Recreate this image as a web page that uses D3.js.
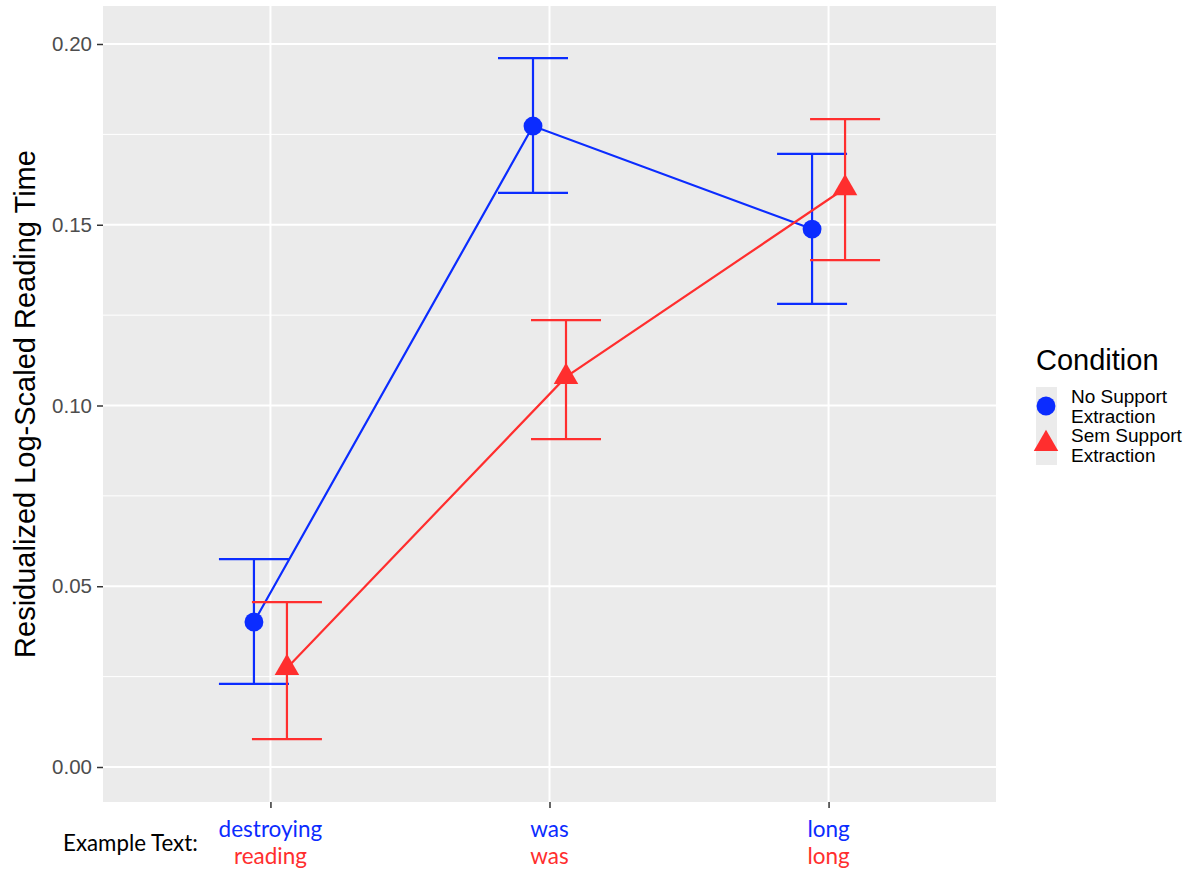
<!DOCTYPE html>
<html>
<head>
<meta charset="utf-8">
<script src="https://cdn.jsdelivr.net/npm/d3@7"></script>
<style>
  body { margin: 0; background: #ffffff; }
  svg { display: block; }
</style>
</head>
<body>
<svg id="chart" width="1193" height="878"></svg>
<script>
// Data
const positions = ["destroying", "was", "long"];
const blueWords = ["destroying", "was", "long"];
const redWords = ["reading", "was", "long"];
const conditions = ["No Support Extraction", "Sem Support Extraction"];

const noSupportMean = [0.0401, 0.1773, 0.1488];
const noSupportLower = [0.0230, 0.1588, 0.1281];
const noSupportUpper = [0.0575, 0.1961, 0.1696];

const semSupportMean = [0.0274, 0.1079, 0.1601];
const semSupportLower = [0.0077, 0.0907, 0.1402];
const semSupportUpper = [0.0456, 0.1236, 0.1792];

const yTicks = [0.00, 0.05, 0.10, 0.15, 0.20];
const yMinor = [0.025, 0.075, 0.125, 0.175];

const BLUE = "#0b2cff";
const RED = "#ff2e2e";

const svg = d3.select("#chart");
const panel = { left: 103, right: 996, top: 6, bottom: 802 };

const x = d3.scalePoint().domain(positions)
  .range([panel.left, panel.right]).padding(0.6);
const y = d3.scaleLinear().domain([0, 0.2]).range([767, 44]);

const dodge = 16.5;
const capHalf = 35;

// Panel background
svg.append("rect")
  .attr("x", panel.left).attr("y", panel.top)
  .attr("width", panel.right - panel.left)
  .attr("height", panel.bottom - panel.top)
  .attr("fill", "#ebebeb");

// Grid lines
svg.append("g").selectAll("line").data(yMinor).join("line")
  .attr("x1", panel.left).attr("x2", panel.right)
  .attr("y1", d => y(d)).attr("y2", d => y(d))
  .attr("stroke", "#ffffff").attr("stroke-width", 1);
svg.append("g").selectAll("line").data(yTicks).join("line")
  .attr("x1", panel.left).attr("x2", panel.right)
  .attr("y1", d => y(d)).attr("y2", d => y(d))
  .attr("stroke", "#ffffff").attr("stroke-width", 2);
svg.append("g").selectAll("line").data(positions).join("line")
  .attr("x1", d => x(d)).attr("x2", d => x(d))
  .attr("y1", panel.top).attr("y2", panel.bottom)
  .attr("stroke", "#ffffff").attr("stroke-width", 2);

// Y axis
const yAxis = svg.append("g")
  .attr("transform", `translate(${panel.left},0)`)
  .call(d3.axisLeft(y).tickValues(yTicks).tickFormat(d3.format(".2f")).tickSize(6).tickPadding(5));
yAxis.select(".domain").remove();
yAxis.selectAll(".tick line").attr("stroke", "#333333").attr("stroke-width", 1.5);
yAxis.selectAll(".tick text")
  .attr("fill", "#4d4d4d")
  .style("font-family", "Liberation Sans, Arial, sans-serif")
  .style("font-size", "20.5px");

// X axis ticks (labels drawn separately in two colours)
const xAxis = svg.append("g")
  .attr("transform", `translate(0,${panel.bottom})`)
  .call(d3.axisBottom(x).tickSize(6).tickFormat(""));
xAxis.select(".domain").remove();
xAxis.selectAll(".tick line").attr("stroke", "#333333").attr("stroke-width", 1.5);

const labelFont = "Lato, 'Open Sans', sans-serif";
svg.append("g").selectAll("text").data(positions).join("text")
  .attr("x", d => x(d)).attr("y", 837)
  .attr("text-anchor", "middle")
  .attr("fill", BLUE)
  .style("font-family", labelFont).style("font-size", "22.5px")
  .text((d, i) => blueWords[i]);
svg.append("g").selectAll("text").data(positions).join("text")
  .attr("x", d => x(d)).attr("y", 864)
  .attr("text-anchor", "middle")
  .attr("fill", RED)
  .style("font-family", labelFont).style("font-size", "22.5px")
  .text((d, i) => redWords[i]);
svg.append("text")
  .attr("x", 63).attr("y", 851)
  .attr("fill", "#000000")
  .style("font-family", labelFont).style("font-size", "22.3px")
  .text("Example Text:");

// Y axis title
svg.append("text")
  .attr("transform", `translate(35,${(panel.top + panel.bottom) / 2}) rotate(-90)`)
  .attr("text-anchor", "middle")
  .attr("fill", "#000000")
  .style("font-family", "Liberation Sans, Arial, sans-serif")
  .style("font-size", "29px")
  .text("Residualized Log-Scaled Reading Time");

// Series
const series = [
  { mean: noSupportMean, lo: noSupportLower, hi: noSupportUpper, color: BLUE, off: -dodge, shape: d3.symbolCircle, size: 280 },
  { mean: semSupportMean, lo: semSupportLower, hi: semSupportUpper, color: RED, off: dodge, shape: d3.symbolTriangle, size: 260 }
];

series.forEach(s => {
  const g = svg.append("g");
  const pts = positions.map((p, i) => ({ cx: x(p) + s.off, m: s.mean[i], lo: s.lo[i], hi: s.hi[i] }));
  // connecting line
  g.append("path")
    .datum(pts)
    .attr("fill", "none").attr("stroke", s.color).attr("stroke-width", 2.2)
    .attr("d", d3.line().x(d => d.cx).y(d => y(d.m)));
  // error bars
  const eb = g.selectAll("g.eb").data(pts).join("g");
  eb.append("line")
    .attr("x1", d => d.cx).attr("x2", d => d.cx)
    .attr("y1", d => y(d.lo)).attr("y2", d => y(d.hi))
    .attr("stroke", s.color).attr("stroke-width", 2.2);
  eb.append("line")
    .attr("x1", d => d.cx - capHalf).attr("x2", d => d.cx + capHalf)
    .attr("y1", d => y(d.lo)).attr("y2", d => y(d.lo))
    .attr("stroke", s.color).attr("stroke-width", 2.2);
  eb.append("line")
    .attr("x1", d => d.cx - capHalf).attr("x2", d => d.cx + capHalf)
    .attr("y1", d => y(d.hi)).attr("y2", d => y(d.hi))
    .attr("stroke", s.color).attr("stroke-width", 2.2);
  // points
  g.selectAll("path.pt").data(pts).join("path")
    .attr("class", "pt")
    .attr("transform", d => `translate(${d.cx},${y(d.m)})`)
    .attr("d", d3.symbol().type(s.shape).size(s.size))
    .attr("fill", s.color);
});

// Legend
const lg = svg.append("g");
lg.append("text")
  .attr("x", 1036).attr("y", 370)
  .attr("fill", "#000000")
  .style("font-family", "Liberation Sans, Arial, sans-serif")
  .style("font-size", "29px")
  .text("Condition");
lg.append("rect")
  .attr("x", 1036).attr("y", 387).attr("width", 21).attr("height", 78)
  .attr("fill", "#ebebeb");
const legendRows = [
  { cy: 406, color: BLUE, shape: d3.symbolCircle, size: 280, lines: ["No Support", "Extraction"], ty: 403 },
  { cy: 444, color: RED, shape: d3.symbolTriangle, size: 260, lines: ["Sem Support", "Extraction"], ty: 442 }
];
legendRows.forEach((r, i) => {
  lg.append("path")
    .attr("transform", `translate(1046,${r.cy})`)
    .attr("d", d3.symbol().type(r.shape).size(r.size))
    .attr("fill", r.color);
  r.lines.forEach((t, j) => {
    lg.append("text")
      .attr("x", 1071).attr("y", r.ty + j * 20)
      .attr("fill", "#000000")
      .style("font-family", "Liberation Sans, Arial, sans-serif")
      .style("font-size", "19px")
      .text(t);
  });
});
</script>
</body>
</html>
